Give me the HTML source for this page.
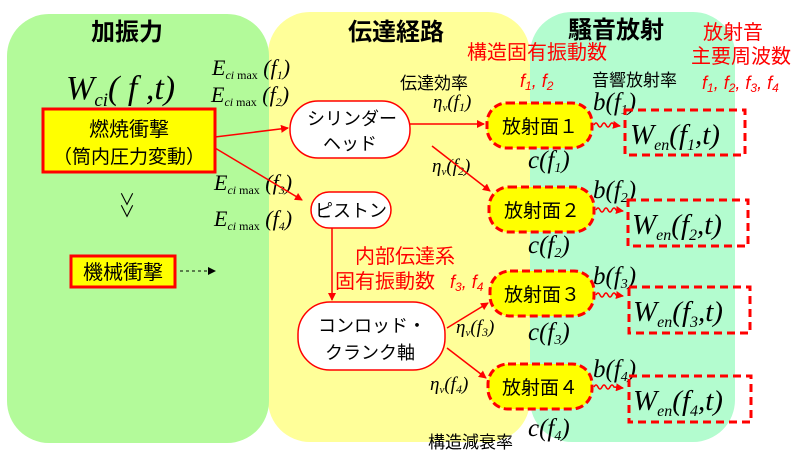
<!DOCTYPE html>
<html><head><meta charset="utf-8"><style>
html,body{margin:0;padding:0;background:#fff;}
svg{display:block;}
.j{font-family:"Liberation Sans","Noto Sans CJK JP",sans-serif;}
.m{font-family:"Liberation Serif",serif;font-style:italic;}
</style></head><body>
<svg width="800" height="459" viewBox="0 0 800 459" xmlns="http://www.w3.org/2000/svg">
<defs>
<marker id="a" markerWidth="8" markerHeight="8" refX="7" refY="4" orient="auto" markerUnits="userSpaceOnUse"><path d="M0,0 L8,4 L0,8z" fill="#f00"/></marker>
<marker id="k" markerWidth="8" markerHeight="8" refX="7" refY="4" orient="auto" markerUnits="userSpaceOnUse"><path d="M0,0 L8,4 L0,8z" fill="#000"/></marker>
</defs>
<rect x="268" y="12" width="262" height="430" rx="42" fill="#ffff99"/>
<rect x="530" y="12" width="205" height="430" rx="42" fill="#b3fccf"/>
<rect x="7" y="14" width="262" height="429" rx="42" fill="#b3fa9a"/>

<g class="j" font-weight="bold" font-size="24" text-anchor="middle" fill="#000">
<text x="127" y="40">加振力</text><text x="396" y="40">伝達経路</text><text x="616" y="38">騒音放射</text></g>

<g class="j" font-size="20" fill="#f00" text-anchor="middle">
<text x="537" y="59">構造固有振動数</text>
<text x="733" y="39">放射音</text><text x="741" y="63">主要周波数</text>
<text x="405" y="263">内部伝達系</text>
<text x="385" y="288">固有振動数</text>
</g>
<g class="j" font-size="18" fill="#f00" font-style="italic">
<text x="520" y="87">f<tspan font-size="12" dy="3">1</tspan><tspan dy="-3">, f</tspan><tspan font-size="12" dy="3">2</tspan></text>
<text x="702" y="89">f<tspan font-size="12" dy="3">1</tspan><tspan dy="-3">, f</tspan><tspan font-size="12" dy="3">2</tspan><tspan dy="-3">, f</tspan><tspan font-size="12" dy="3">3</tspan><tspan dy="-3">, f</tspan><tspan font-size="12" dy="3">4</tspan></text>
<text x="450" y="288">f<tspan font-size="12" dy="3">3</tspan><tspan dy="-3">, f</tspan><tspan font-size="12" dy="3">4</tspan></text>
</g>
<g class="j" font-size="17" fill="#000">
<text x="400" y="89">伝達効率</text><text x="592" y="86">音響放射率</text><text x="428" y="448">構造減衰率</text>
</g>

<text class="m" x="66" y="99" font-size="34">W<tspan font-size="19" dy="7">ci</tspan><tspan dy="-7">(</tspan> f ,t)</text>
<g class="m" font-size="22">
<text x="212" y="75">E<tspan font-size="12" dy="4">ci </tspan><tspan font-size="12" font-style="normal">max</tspan><tspan dy="-4"> (f</tspan><tspan font-size="12" dy="4">1</tspan><tspan dy="-4">)</tspan></text>
<text x="211" y="102">E<tspan font-size="12" dy="4">ci </tspan><tspan font-size="12" font-style="normal">max</tspan><tspan dy="-4"> (f</tspan><tspan font-size="12" dy="4">2</tspan><tspan dy="-4">)</tspan></text>
<text x="214" y="190">E<tspan font-size="12" dy="4">ci </tspan><tspan font-size="12" font-style="normal">max</tspan><tspan dy="-4"> (f</tspan><tspan font-size="12" dy="4">3</tspan><tspan dy="-4">)</tspan></text>
<text x="214" y="226">E<tspan font-size="12" dy="4">ci </tspan><tspan font-size="12" font-style="normal">max</tspan><tspan dy="-4"> (f</tspan><tspan font-size="12" dy="4">4</tspan><tspan dy="-4">)</tspan></text>
<text x="433" y="108" font-size="19">η<tspan font-size="11" dy="3">v</tspan><tspan dy="-3">(f</tspan><tspan font-size="12" dy="3">1</tspan><tspan dy="-3">)</tspan></text>
<text x="432" y="172" font-size="19">η<tspan font-size="11" dy="3">v</tspan><tspan dy="-3">(f</tspan><tspan font-size="12" dy="3">2</tspan><tspan dy="-3">)</tspan></text>
<text x="456" y="333" font-size="19">η<tspan font-size="11" dy="3">v</tspan><tspan dy="-3">(f</tspan><tspan font-size="12" dy="3">3</tspan><tspan dy="-3">)</tspan></text>
<text x="430" y="390" font-size="19">η<tspan font-size="11" dy="3">v</tspan><tspan dy="-3">(f</tspan><tspan font-size="12" dy="3">4</tspan><tspan dy="-3">)</tspan></text>
</g>
<g class="m" font-size="25">
<text x="528" y="168">c(f<tspan font-size="14" dy="4">1</tspan><tspan dy="-4">)</tspan></text>
<text x="528" y="253">c(f<tspan font-size="14" dy="4">2</tspan><tspan dy="-4">)</tspan></text>
<text x="528" y="340">c(f<tspan font-size="14" dy="4">3</tspan><tspan dy="-4">)</tspan></text>
<text x="528" y="436">c(f<tspan font-size="14" dy="4">4</tspan><tspan dy="-4">)</tspan></text>
<text x="593" y="110">b(f<tspan font-size="14" dy="4">1</tspan><tspan dy="-4">)</tspan></text>
<text x="593" y="198">b(f<tspan font-size="14" dy="4">2</tspan><tspan dy="-4">)</tspan></text>
<text x="593" y="284">b(f<tspan font-size="14" dy="4">3</tspan><tspan dy="-4">)</tspan></text>
<text x="593" y="377">b(f<tspan font-size="14" dy="4">4</tspan><tspan dy="-4">)</tspan></text>
</g>

<rect x="43" y="109" width="172" height="63" fill="#ffff00" stroke="#f00" stroke-width="3"/>
<text class="j" x="129" y="136" font-size="20" text-anchor="middle">燃焼衝撃</text>
<text class="j" x="129" y="163" font-size="19" text-anchor="middle">（筒内圧力変動）</text>
<text class="j" x="127" y="205" font-size="16" text-anchor="middle">∨</text>
<text class="j" x="127" y="217" font-size="16" text-anchor="middle">∨</text>
<rect x="71" y="256" width="104" height="31" fill="#ffff00" stroke="#f00" stroke-width="3"/>
<text class="j" x="123" y="279" font-size="20" text-anchor="middle">機械衝撃</text>
<line x1="180" y1="271" x2="215" y2="271" stroke="#000" stroke-dasharray="3,3" marker-end="url(#k)"/>

<g fill="#fff" stroke="#f00" stroke-width="1.5">
<rect x="290" y="101" width="120" height="57" rx="28"/>
<rect x="311" y="192" width="80" height="36" rx="18"/>
<rect x="298" y="302" width="147" height="68" rx="32"/>
</g>
<g class="j" font-size="18" text-anchor="middle">
<text x="352" y="125">シリンダー</text><text x="350" y="150">ヘッド</text>
<text x="351" y="217">ピストン</text>
<text x="372" y="332">コンロッド・</text><text x="370" y="359">クランク軸</text>
</g>

<g fill="#ffff00" stroke="#f00" stroke-width="3" stroke-dasharray="8,4">
<rect x="487" y="103" width="105" height="45" rx="20"/>
<rect x="489" y="187" width="105" height="45" rx="20"/>
<rect x="490" y="271" width="104" height="45" rx="20"/>
<rect x="488" y="364" width="104" height="45" rx="20"/>
</g>
<g class="j" font-size="19" text-anchor="middle">
<text x="540" y="133">放射面１</text><text x="542" y="217">放射面２</text>
<text x="542" y="301">放射面３</text><text x="540" y="394">放射面４</text>
</g>

<g fill="none" stroke="#f00" stroke-width="3" stroke-dasharray="8,5">
<rect x="625" y="110" width="120" height="45"/>
<rect x="628" y="200" width="120" height="46"/>
<rect x="629" y="287" width="121" height="46"/>
<rect x="629" y="376" width="122" height="46"/>
</g>
<g class="m" font-size="29">
<text x="630" y="144">W<tspan font-size="16" dy="6">en</tspan><tspan dy="-6">(f</tspan><tspan font-size="16" dy="6">1</tspan><tspan dy="-6">,t)</tspan></text>
<text x="632" y="234">W<tspan font-size="16" dy="6">en</tspan><tspan dy="-6">(f</tspan><tspan font-size="16" dy="6">2</tspan><tspan dy="-6">,t)</tspan></text>
<text x="633" y="321">W<tspan font-size="16" dy="6">en</tspan><tspan dy="-6">(f</tspan><tspan font-size="16" dy="6">3</tspan><tspan dy="-6">,t)</tspan></text>
<text x="633" y="410">W<tspan font-size="16" dy="6">en</tspan><tspan dy="-6">(f</tspan><tspan font-size="16" dy="6">4</tspan><tspan dy="-6">,t)</tspan></text>
</g>

<g stroke="#f00" stroke-width="1.5" fill="none" marker-end="url(#a)">
<line x1="215" y1="137" x2="288" y2="128"/>
<line x1="215" y1="148" x2="302" y2="200"/>
<line x1="410" y1="124" x2="484" y2="124"/>
<line x1="432" y1="146" x2="490" y2="191"/>
<line x1="332" y1="228" x2="332" y2="300"/>
<line x1="447" y1="328" x2="488" y2="303"/>
<line x1="447" y1="348" x2="486" y2="378"/>
<path d="M594,125 q2,-4 4,0 t4,0 t4,0 t4,0 t4,0 L620,126"/>
<path d="M596,210 q2,-4 4,0 t4,0 t4,0 t4,0 t4,0 L623,211"/>
<path d="M596,295 q2,-4 4,0 t4,0 t4,0 t4,0 t4,0 L623,296"/>
<path d="M594,387 q2,-4 4,0 t4,0 t4,0 t4,0 t4,0 L623,388"/>
</g>
</svg>
</body></html>
